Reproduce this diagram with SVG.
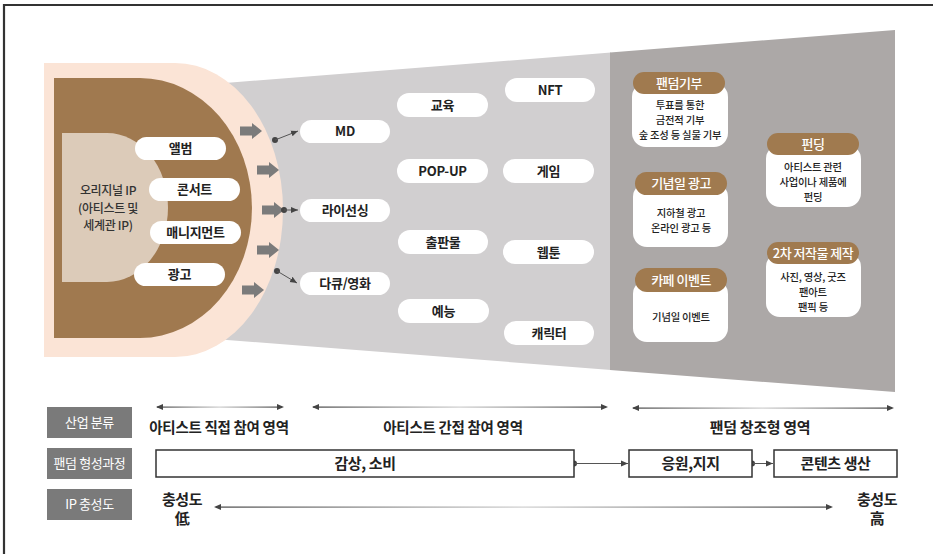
<svg xmlns="http://www.w3.org/2000/svg" width="940" height="554" viewBox="0 0 940 554">
<defs>
<style>
text{font-family:"Noto Sans CJK KR","Noto Sans",sans-serif;text-anchor:middle;fill:#222}
.pill{fill:#fff}
.pt{font-size:13px;font-weight:700;letter-spacing:-0.3px}
.hd{fill:#a07a4f}
.ht{font-size:13px;font-weight:500;fill:#fff;letter-spacing:-0.5px}
.bt{font-size:10.3px;font-weight:500;letter-spacing:-0.2px}
.lbl{fill:#7a7a7a}
.lt{font-size:13px;fill:#fff;letter-spacing:-0.4px}
.zt{font-size:14.5px;font-weight:700;letter-spacing:-0.3px}
.bx{font-size:15px;font-weight:700;letter-spacing:-0.4px}
.box{fill:#fff;stroke:#333;stroke-width:1.5}
.con{stroke:#555;stroke-width:1;fill:none}
.dot{fill:#444}
.ah{fill:#444}
.blk{fill:#7b7b7b}
.src{font-size:12px;font-weight:500;letter-spacing:-0.3px;fill:#333}
</style>
<linearGradient id="fade" x1="0" y1="0" x2="1" y2="0">
<stop offset="0" stop-color="#444"/>
<stop offset="0.5" stop-color="#cfcfcf"/>
<stop offset="1" stop-color="#444"/>
</linearGradient>
<marker id="sm" markerWidth="8" markerHeight="8" refX="7" refY="4" orient="auto" markerUnits="userSpaceOnUse">
<path d="M0,1 L7,4 L0,7 Z" fill="#444"/>
</marker>
<path id="blkarrow" d="M0,-4.5 H12 V-8 L22,0 L12,8 V4.5 H0 Z"/>
</defs>

<!-- frame -->
<path d="M4,554 V5 H933" fill="none" stroke="#333" stroke-width="2.2"/>

<!-- funnel background -->
<g id="funnel">
<polygon points="150,89 611,52.5 611,370 150,334" fill="#d1cfd0"/>
<polygon points="610,52.5 895,30 895,392 610,370" fill="#aca8a7"/>
</g>

<!-- source D shapes -->
<g id="source">
<path d="M44,63 H175 A108,147 0 0 1 175,357 H44 Z" fill="#fbe4d6"/>
<path d="M54,78 H140 A112,130 0 0 1 140,338 H54 Z" fill="#a0794f"/>
<path d="M62,133 H107 A61,74.5 0 0 1 107,282 H62 Z" fill="#dccbb9"/>
<text class="src" x="108" y="195">오리지널 IP</text>
<text class="src" x="108" y="212.5">(아티스트 및</text>
<text class="src" x="108" y="230">세계관 IP)</text>
</g>

<g id="n-album"><rect class="pill" x="135" y="137" width="91" height="23" rx="11.5"/><text class="pt" x="180.5" y="153">앨범</text></g>
<g id="n-concert"><rect class="pill" x="149" y="178" width="91" height="23" rx="11.5"/><text class="pt" x="194.5" y="194">콘서트</text></g>
<g id="n-mgmt"><rect class="pill" x="150" y="221" width="91" height="23" rx="11.5"/><text class="pt" x="195.5" y="237">매니지먼트</text></g>
<g id="n-ad"><rect class="pill" x="134" y="263" width="91" height="23" rx="11.5"/><text class="pt" x="179.5" y="279">광고</text></g>

<!-- block arrows -->
<g id="block-arrows" class="blk">
<use href="#blkarrow" x="240" y="131"/>
<use href="#blkarrow" x="257" y="170"/>
<use href="#blkarrow" x="262" y="210"/>
<use href="#blkarrow" x="257" y="250"/>
<use href="#blkarrow" x="242" y="290"/>
</g>

<!-- middle pills -->
<g id="n-md"><rect class="pill" x="300" y="120" width="90" height="23" rx="11.5"/><text class="pt" x="345" y="136">MD</text></g>
<g id="n-licensing"><rect class="pill" x="300" y="199" width="90" height="23" rx="11.5"/><text class="pt" x="345" y="215">라이선싱</text></g>
<g id="n-docu"><rect class="pill" x="300" y="272" width="90" height="23" rx="11.5"/><text class="pt" x="345" y="288">다큐/영화</text></g>

<g id="n-edu"><rect class="pill" x="397" y="93" width="91" height="24" rx="12"/><text class="pt" x="442.5" y="109.5">교육</text></g>
<g id="n-popup"><rect class="pill" x="397" y="159" width="91" height="24" rx="12"/><text class="pt" x="442.5" y="175.5">POP-UP</text></g>
<g id="n-pub"><rect class="pill" x="398" y="230" width="90" height="24" rx="12"/><text class="pt" x="443" y="246.5">출판물</text></g>
<g id="n-ent"><rect class="pill" x="398" y="299" width="91" height="24" rx="12"/><text class="pt" x="443.5" y="315.5">예능</text></g>

<g id="n-nft"><rect class="pill" x="505" y="78" width="90" height="24" rx="12"/><text class="pt" x="550" y="94.5">NFT</text></g>
<g id="n-game"><rect class="pill" x="503" y="159" width="91" height="24" rx="12"/><text class="pt" x="548.5" y="175.5">게임</text></g>
<g id="n-webtoon"><rect class="pill" x="503" y="240" width="91" height="24" rx="12"/><text class="pt" x="548.5" y="256.5">웹툰</text></g>
<g id="n-char"><rect class="pill" x="504" y="321" width="90" height="24" rx="12"/><text class="pt" x="549" y="337.5">캐릭터</text></g>

<!-- cards -->
<g id="n-donation">
<rect class="pill" x="632" y="83" width="96" height="64" rx="14"/>
<rect class="hd" x="633" y="72" width="92" height="22" rx="11"/>
<text class="ht" x="679" y="87.5">팬덤기부</text>
<text class="bt" x="680" y="109">투표를 통한</text>
<text class="bt" x="680" y="124">금전적 기부</text>
<text class="bt" x="680" y="139">숲 조성 등 실물 기부</text>
</g>
<g id="n-anniv-ad">
<rect class="pill" x="633" y="183" width="95" height="64" rx="14"/>
<rect class="hd" x="635" y="172" width="92" height="23" rx="11.5"/>
<text class="ht" x="681" y="188">기념일 광고</text>
<text class="bt" x="681" y="217">지하철 광고</text>
<text class="bt" x="681" y="232">온라인 광고 등</text>
</g>
<g id="n-cafe">
<rect class="pill" x="633" y="280" width="95" height="62" rx="14"/>
<rect class="hd" x="635" y="268" width="92" height="24" rx="12"/>
<text class="ht" x="681" y="284.5">카페 이벤트</text>
<text class="bt" x="681" y="321">기념일 이벤트</text>
</g>
<g id="n-funding">
<rect class="pill" x="766" y="145" width="95" height="62" rx="14"/>
<rect class="hd" x="767" y="133" width="92" height="22" rx="11"/>
<text class="ht" x="813" y="148.5">펀딩</text>
<text class="bt" x="813" y="171">아티스트 관련</text>
<text class="bt" x="813" y="186">사업이나  제품에</text>
<text class="bt" x="813" y="201">펀딩</text>
</g>
<g id="n-derivative">
<rect class="pill" x="766" y="253" width="95" height="64" rx="14"/>
<rect class="hd" x="767" y="242" width="92" height="22" rx="11"/>
<text class="ht" x="813" y="257.5">2차 저작물 제작</text>
<text class="bt" x="813" y="281">사진, 영상, 굿즈</text>
<text class="bt" x="813" y="296">팬아트</text>
<text class="bt" x="813" y="311">팬픽 등</text>
</g>

<!-- connectors -->
<g id="connectors">
<circle class="dot" cx="275" cy="140" r="3"/>
<line class="con" x1="275" y1="140" x2="298" y2="131" marker-end="url(#sm)"/>
<circle class="dot" cx="284" cy="210" r="3"/>
<line class="con" x1="284" y1="210" x2="298" y2="210" marker-end="url(#sm)"/>
<circle class="dot" cx="277" cy="271" r="3"/>
<line class="con" x1="277" y1="271" x2="297" y2="283" marker-end="url(#sm)"/>

<!-- row 1 range arrows -->
<rect x="157" y="406.5" width="125" height="1.2" fill="url(#fade)"/>
<path class="ah" d="M156,407 L163,404 L163,410 Z"/>
<path class="ah" d="M284,407 L277,404 L277,410 Z"/>
<rect x="313" y="406.5" width="293" height="1.2" fill="url(#fade)"/>
<path class="ah" d="M312,407 L319,404 L319,410 Z"/>
<path class="ah" d="M608,407 L601,404 L601,410 Z"/>
<rect x="633" y="407.5" width="259" height="1.2" fill="url(#fade)"/>
<path class="ah" d="M632,408 L639,405 L639,411 Z"/>
<path class="ah" d="M894,408 L887,405 L887,411 Z"/>

<!-- row 2 flow -->
<circle class="dot" cx="574" cy="463.5" r="3"/>
<line class="con" x1="574" y1="463.5" x2="628" y2="463.5" marker-end="url(#sm)"/>
<circle class="dot" cx="752" cy="463.5" r="3"/>
<line class="con" x1="752" y1="463.5" x2="773" y2="463.5" marker-end="url(#sm)"/>

<!-- row 3 loyalty arrow -->
<rect x="216" y="506.5" width="615" height="1.2" fill="url(#fade)"/>
<path class="ah" d="M214,507 L221,504 L221,510 Z"/>
<path class="ah" d="M833,507 L826,504 L826,510 Z"/>
</g>

<!-- bottom table -->
<g id="lbl-industry"><rect class="lbl" x="47" y="407" width="85" height="31"/><text class="lt" x="89.5" y="427">산업 분류</text></g>
<g id="lbl-fandom"><rect class="lbl" x="47" y="448" width="85" height="31"/><text class="lt" x="89.5" y="468">팬덤 형성과정</text></g>
<g id="lbl-ip"><rect class="lbl" x="47" y="489" width="85" height="31"/><text class="lt" x="89.5" y="509">IP 충성도</text></g>

<g id="zone-direct"><text class="zt" x="219" y="433">아티스트 직접 참여 영역</text></g>
<g id="zone-indirect"><text class="zt" x="453" y="433">아티스트 간접 참여 영역</text></g>
<g id="zone-creative"><text class="zt" x="760" y="433" style="font-size:15px">팬덤 창조형 영역</text></g>

<g id="n-consume"><rect class="box" x="156" y="450" width="418" height="27"/><text class="bx" x="365" y="469">감상, 소비</text></g>
<g id="n-support"><rect class="box" x="629" y="450" width="123" height="27"/><text class="bx" x="690.5" y="469">응원,지지</text></g>
<g id="n-produce"><rect class="box" x="774" y="450" width="123" height="27"/><text class="bx" x="835.5" y="469">콘텐츠 생산</text></g>

<g id="loy-low"><text class="bx" x="182" y="505">충성도</text><text class="bx" x="182" y="524">低</text></g>
<g id="loy-high"><text class="bx" x="877" y="505">충성도</text><text class="bx" x="877" y="524">高</text></g>
</svg>
